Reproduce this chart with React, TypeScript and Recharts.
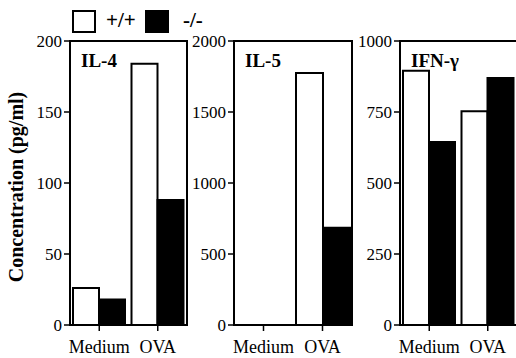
import { BarChart, Bar, XAxis, YAxis, ReferenceArea } from "recharts"

// categories and genotype series
const categories = ["Medium", "OVA"]

const il4WT = [26, 184]
const il4KO = [18, 88]

const il5WT = [0, 1775]
const il5KO = [0, 685]

const ifnWT = [895, 753]
const ifnKO = [644, 870]

const il4Ticks = [0, 50, 100, 150, 200]
const il5Ticks = [0, 500, 1000, 1500, 2000]
const ifnTicks = [0, 250, 500, 750, 1000]

const FONT = "Liberation Serif, serif"

const buildRows = (wt: number[], ko: number[]) =>
  categories.map((c, i) => ({ name: c, wt: wt[i], ko: ko[i] }))

const XTick = ({ x, y, payload }: { x?: number; y?: number; payload?: { value: string } }) => (
  <text x={x} y={(y ?? 0) + 20} textAnchor="middle" fill="#000" style={{ fontFamily: FONT, fontSize: 18 }}>
    {payload?.value}
  </text>
)

const YTick = ({ x, y, payload }: { x?: number; y?: number; payload?: { value: number } }) => (
  <text x={x} y={(y ?? 0) + 6} textAnchor="end" fill="#000" style={{ fontFamily: FONT, fontSize: 17 }}>
    {payload?.value}
  </text>
)

interface PanelProps {
  title: string
  wt: number[]
  ko: number[]
  ticks: number[]
  left: number
  axisW: number
  plotW: number
}

function Panel({ title, wt, ko, ticks, left, axisW, plotW }: PanelProps) {
  const max = ticks[ticks.length - 1]
  const width = axisW + plotW + 6
  return (
    <div style={{ position: "absolute", left, top: 0 }}>
      <BarChart
        width={width}
        height={358}
        data={buildRows(wt, ko)}
        margin={{ top: 41, right: 6, bottom: 0, left: 0 }}
        barCategoryGap={3}
        barGap={0}
      >
        <XAxis
          dataKey="name"
          height={33}
          axisLine={{ stroke: "#000", strokeWidth: 2 }}
          tickLine={{ stroke: "#000", strokeWidth: 1.5 }}
          tickSize={6}
          tick={<XTick />}
          interval={0}
        />
        <YAxis
          width={axisW}
          domain={[0, max]}
          ticks={ticks}
          axisLine={{ stroke: "#000", strokeWidth: 2 }}
          tickLine={{ stroke: "#000", strokeWidth: 1.5 }}
          tickSize={6}
          tick={<YTick />}
        />
        <ReferenceArea y1={0} y2={max} fill="none" stroke="#000" strokeWidth={2} ifOverflow="visible" />
        <Bar dataKey="wt" fill="#fff" stroke="#000" strokeWidth={2} isAnimationActive={false} />
        <Bar dataKey="ko" fill="#000" stroke="#000" strokeWidth={2} isAnimationActive={false} />
      </BarChart>
      <div
        style={{
          position: "absolute",
          left: axisW + 11,
          top: 50,
          fontFamily: FONT,
          fontWeight: "bold",
          fontSize: 19,
          color: "#000",
        }}
      >
        {title}
      </div>
    </div>
  )
}

export default function App() {
  return (
    <div
      style={{
        position: "absolute",
        left: 0,
        top: 0,
        width: 516,
        height: 358,
        overflow: "hidden",
        background: "#fff",
        fontFamily: FONT,
        color: "#000",
      }}
    >
      {/* legend */}
      <div style={{ position: "absolute", left: 72, top: 10, width: 20, height: 19, border: "2px solid #000", background: "#fff" }} />
      <div style={{ position: "absolute", left: 106, top: 8, fontSize: 21, fontWeight: "bold" }}>+/+</div>
      <div style={{ position: "absolute", left: 145, top: 10, width: 24, height: 23, background: "#000" }} />
      <div style={{ position: "absolute", left: 183, top: 8, fontSize: 21, fontWeight: "bold" }}>-/-</div>

      {/* y axis title */}
      <div
        style={{
          position: "absolute",
          left: 16,
          top: 187,
          transform: "translate(-50%, -50%) rotate(-90deg)",
          whiteSpace: "nowrap",
          fontSize: 20,
          fontWeight: "bold",
        }}
      >
        Concentration (pg/ml)
      </div>

      <Panel title="IL-4" wt={il4WT} ko={il4KO} ticks={il4Ticks} left={0} axisW={70} plotW={117} />
      <Panel title="IL-5" wt={il5WT} ko={il5KO} ticks={il5Ticks} left={184} axisW={50} plotW={118} />
      <Panel title="IFN-γ" wt={ifnWT} ko={ifnKO} ticks={ifnTicks} left={350} axisW={50} plotW={117} />
    </div>
  )
}
